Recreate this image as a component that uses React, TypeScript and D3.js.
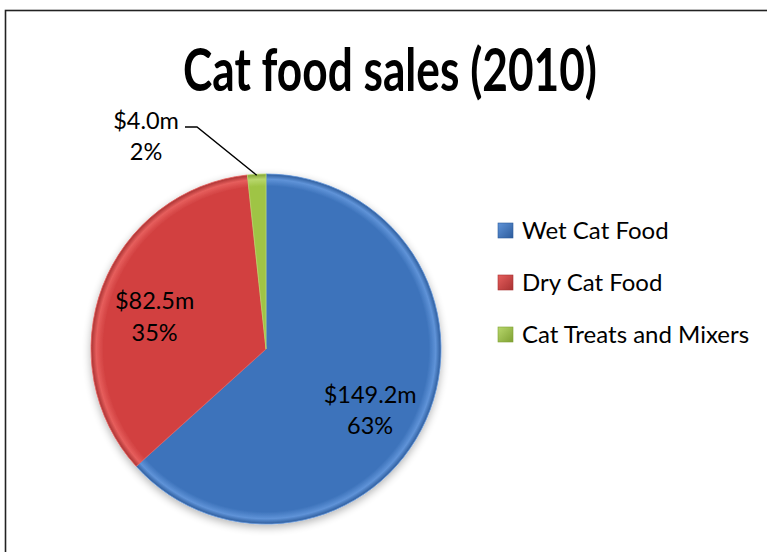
import React from "react";
import * as d3 from "d3";

const categories = ["Wet Cat Food", "Dry Cat Food", "Cat Treats and Mixers"];
const sales = [149.2, 82.5, 4.0];
const percents = ["63%", "35%", "2%"];
const valueLabels = ["$149.2m", "$82.5m", "$4.0m"];
const colors = ["#3d73bb", "#d24141", "#9fc445"];
const lightColors = ["#5f93d8", "#e65e5c", "#b8d76c"];
const darkColors = ["#2d5c9c", "#a83232", "#7fa133"];

const W = 767;
const H = 552;
const FONT = "Lato, 'Open Sans', sans-serif";

export default function App() {
  const cx = 266;
  const cy = 349;
  const r = 175;
  const pie = d3.pie<number>().sort(null).value((d) => d);
  const arcs = pie(sales);
  const arc = d3.arc<d3.PieArcDatum<number>>().innerRadius(0).outerRadius(r);
  const labelArc = d3.arc<d3.PieArcDatum<number>>().innerRadius(r * 0.62).outerRadius(r * 0.62);

  const legendY = d3.scaleBand<string>().domain(categories).range([204.5, 360.5]);

  const c0 = labelArc.centroid(arcs[0]);
  const c1 = labelArc.centroid(arcs[1]);
  const mid2 = (arcs[2].startAngle + arcs[2].endAngle) / 2;
  const edge2: [number, number] = [Math.sin(mid2) * (r - 1), -Math.cos(mid2) * (r - 1)];

  return (
    <svg width={W} height={H} style={{ position: "absolute", left: 0, top: 0, background: "#fff" }}>
      <defs>
        {colors.map((c, i) => (
          <radialGradient key={i} id={`g${i}`} gradientUnits="userSpaceOnUse" cx={0} cy={0} r={r}>
            <stop offset="0%" stopColor={c} />
            <stop offset="93%" stopColor={c} />
            <stop offset="97%" stopColor={lightColors[i]} />
            <stop offset="100%" stopColor={darkColors[i]} />
          </radialGradient>
        ))}
        {colors.map((c, i) => (
          <linearGradient key={`l${i}`} id={`lg${i}`} x1="0" y1="0" x2="1" y2="1">
            <stop offset="0%" stopColor={lightColors[i]} />
            <stop offset="100%" stopColor={darkColors[i]} />
          </linearGradient>
        ))}
        <filter id="shadow" x="-20%" y="-20%" width="140%" height="140%">
          <feGaussianBlur in="SourceAlpha" stdDeviation="4" />
          <feOffset dx="0" dy="3" result="b" />
          <feComponentTransfer>
            <feFuncA type="linear" slope="0.3" />
          </feComponentTransfer>
          <feMerge>
            <feMergeNode />
            <feMergeNode in="SourceGraphic" />
          </feMerge>
        </filter>
      </defs>
      <rect x={5.5} y={10.5} width={W + 10} height={H + 10} fill="#fff" stroke="#222" strokeWidth={1.6} />
      <text
        x={183}
        y={91}
        textLength={414}
        lengthAdjust="spacingAndGlyphs"
        fontFamily={FONT}
        fontWeight={700}
        fontSize={60}
        fill="#000"
      >
        Cat food sales (2010)
      </text>
      <g transform={`translate(${cx},${cy})`}>
        <g filter="url(#shadow)">
          {arcs.map((a, i) => (
            <path key={i} d={arc(a) || ""} fill={`url(#g${i})`} stroke={lightColors[i]} strokeWidth={0.8} />
          ))}
        </g>
        <text textAnchor="middle" fontFamily={FONT} fontSize={23.5} fill="#000">
          <tspan x={c0[0] + 5} y={c0[1] + 10}>{valueLabels[0]}</tspan>
          <tspan x={c0[0] + 5} y={c0[1] + 41}>{percents[0]}</tspan>
        </text>
        <text textAnchor="middle" fontFamily={FONT} fontSize={23.5} fill="#000">
          <tspan x={c1[0] - 10} y={c1[1] - 1}>{valueLabels[1]}</tspan>
          <tspan x={c1[0] - 10} y={c1[1] + 31}>{percents[1]}</tspan>
        </text>
        <polyline
          points={`${185 - cx},${127 - cy} ${197 - cx},${127 - cy} ${edge2[0]},${edge2[1]}`}
          fill="none"
          stroke="#000"
          strokeWidth={1.4}
        />
        <text textAnchor="middle" fontFamily={FONT} fontSize={23.5} fill="#000">
          <tspan x={146 - cx} y={129 - cy}>{valueLabels[2]}</tspan>
          <tspan x={146 - cx} y={160 - cy}>{percents[2]}</tspan>
        </text>
      </g>
      <g>
        {categories.map((c, i) => {
          const y = (legendY(c) || 0) + legendY.bandwidth() / 2;
          return (
            <g key={c}>
              <rect x={498} y={y - 7.5} width={15} height={15} fill={`url(#lg${i})`} stroke={darkColors[i]} strokeWidth={0.6} />
              <text x={522} y={y + 8.5} fontFamily={FONT} fontSize={24} fill="#000">
                {c}
              </text>
            </g>
          );
        })}
      </g>
    </svg>
  );
}
